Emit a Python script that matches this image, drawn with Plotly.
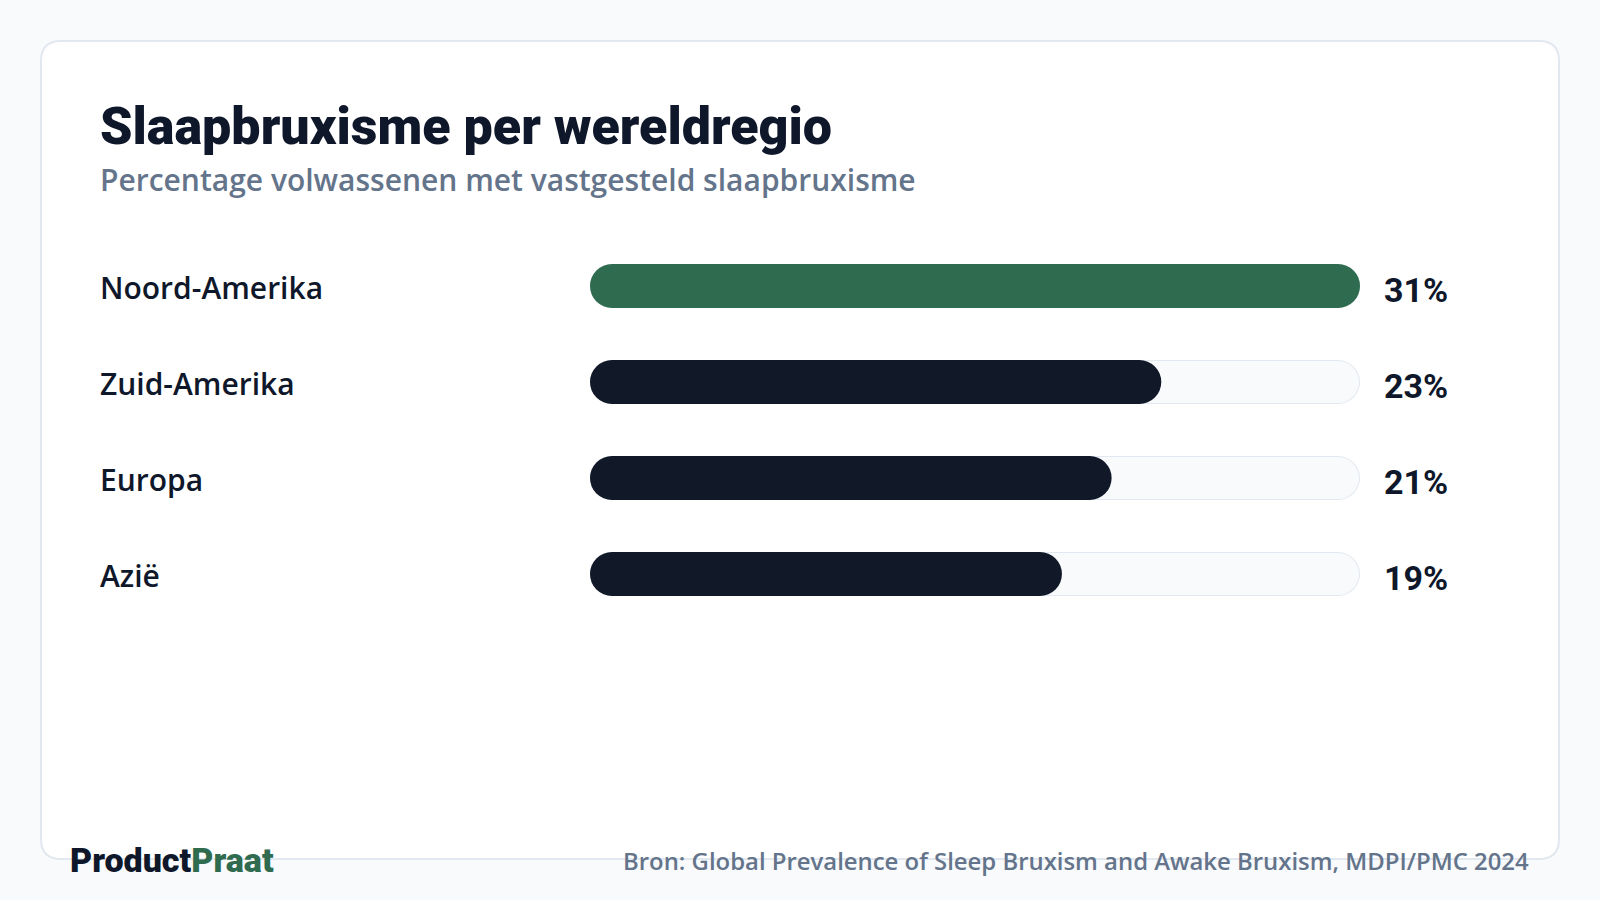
import plotly.graph_objects as go

# ---- data ----
regions = ["Noord-Amerika", "Zuid-Amerika", "Europa", "Azië"]
values = [31, 23, 21, 19]
value_labels = ["31%", "23%", "21%", "19%"]
highlight = "Noord-Amerika"

title = "Slaapbruxisme per wereldregio"
subtitle = "Percentage volwassenen met vastgesteld slaapbruxisme"
source = "Bron: Global Prevalence of Sleep Bruxism and Awake Bruxism, MDPI/PMC 2024"

# ---- style ----
W, H = 1600, 900
BG = "#f8fafc"
CARD = "#ffffff"
BORDER = "#e2e8f0"
DARK = "#0f172a"
BAR_DARK = "#111827"
GREEN = "#2f6b4f"
MUTED = "#64748b"

x0_px, x1_px = 590, 1360          # bar track extent in pixels
row_px = 96                       # row spacing
top_px = 238                      # top of y domain
n = len(regions)
bottom_px = top_px + row_px * n
vmax = max(values)
px_per_unit = (x1_px - x0_px) / vmax
bar_w = 44 / row_px
inner_w = 42 / row_px
inset = 1 / px_per_unit

fig = go.Figure()

def pill(ys, starts, lengths, color, width):
    # floating bars (explicit base) get rounded ends on both sides
    fig.add_trace(go.Bar(
        y=ys, x=lengths, base=starts, orientation="h",
        width=width, marker=dict(color=color, line=dict(width=0), cornerradius="50%"),
        hoverinfo="skip", showlegend=False,
    ))

# track (border + fill)
pill(regions, [0] * n, [vmax] * n, BORDER, bar_w)
pill(regions, [inset] * n, [vmax - 2 * inset] * n, BG, inner_w)
# value bars
bar_colors = [GREEN if r == highlight else BAR_DARK for r in regions]
for r, v, c in zip(regions, values, bar_colors):
    pill([r], [0], [v], c, bar_w)

def py(y):
    return (H - y) / H

annotations = []
annotations.append(dict(x=98 / W, y=py(127), xref="paper", yref="paper", text=title,
                        showarrow=False, xanchor="left", yanchor="middle",
                        font=dict(family="Roboto", size=52, color=DARK, weight=900)))
annotations.append(dict(x=98 / W, y=py(180), xref="paper", yref="paper", text=subtitle,
                        showarrow=False, xanchor="left", yanchor="middle",
                        font=dict(family="Open Sans", size=30, color=MUTED, weight=600)))
for r, lab in zip(regions, value_labels):
    annotations.append(dict(x=98 / W, y=r, xref="paper", yref="y", text=r, yshift=-1,
                            showarrow=False, xanchor="left", yanchor="middle",
                            font=dict(family="Open Sans", size=30, color=DARK, weight=600)))
    annotations.append(dict(x=vmax, y=r, xref="x", yref="y", text=f"<b>{lab}</b>", xshift=22, yshift=-4,
                            showarrow=False, xanchor="left", yanchor="middle",
                            font=dict(family="Roboto", size=34, color=DARK)))
annotations.append(dict(x=68 / W, y=py(860), xref="paper", yref="paper",
                        text=f"Product<span style='color:{GREEN}'>Praat</span>",
                        showarrow=False, xanchor="left", yanchor="middle",
                        font=dict(family="Roboto", size=34, color=DARK, weight=900)))
annotations.append(dict(x=1531 / W, y=py(860.5), xref="paper", yref="paper", text=source,
                        showarrow=False, xanchor="right", yanchor="middle",
                        font=dict(family="Open Sans", size=23.9, color=MUTED, weight=600)))

# rounded card
cx0, cy0, cx1, cy1, rad = 41, 41, 1559, 859, 20
def P(x, y):
    return f"{x / W:.6f},{py(y):.6f}"
card_path = (f"M {P(cx0 + rad, cy0)} L {P(cx1 - rad, cy0)} Q {P(cx1, cy0)} {P(cx1, cy0 + rad)} "
             f"L {P(cx1, cy1 - rad)} Q {P(cx1, cy1)} {P(cx1 - rad, cy1)} "
             f"L {P(cx0 + rad, cy1)} Q {P(cx0, cy1)} {P(cx0, cy1 - rad)} "
             f"L {P(cx0, cy0 + rad)} Q {P(cx0, cy0)} {P(cx0 + rad, cy0)} Z")

fig.update_layout(
    width=W, height=H, margin=dict(l=0, r=0, t=0, b=0),
    paper_bgcolor=BG, plot_bgcolor="rgba(0,0,0,0)",
    barmode="overlay", showlegend=False,
    xaxis=dict(domain=[x0_px / W, x1_px / W], range=[0, vmax], visible=False, fixedrange=True),
    yaxis=dict(domain=[py(bottom_px), py(top_px)], type="category", categoryorder="array",
               categoryarray=regions, range=[n - 0.5, -0.5], visible=False, fixedrange=True),
    shapes=[dict(type="path", xref="paper", yref="paper", path=card_path,
                 fillcolor=CARD, line=dict(color=BORDER, width=2), layer="below")],
    annotations=annotations,
)

fig.write_html("out.html", config={"displayModeBar": False})
